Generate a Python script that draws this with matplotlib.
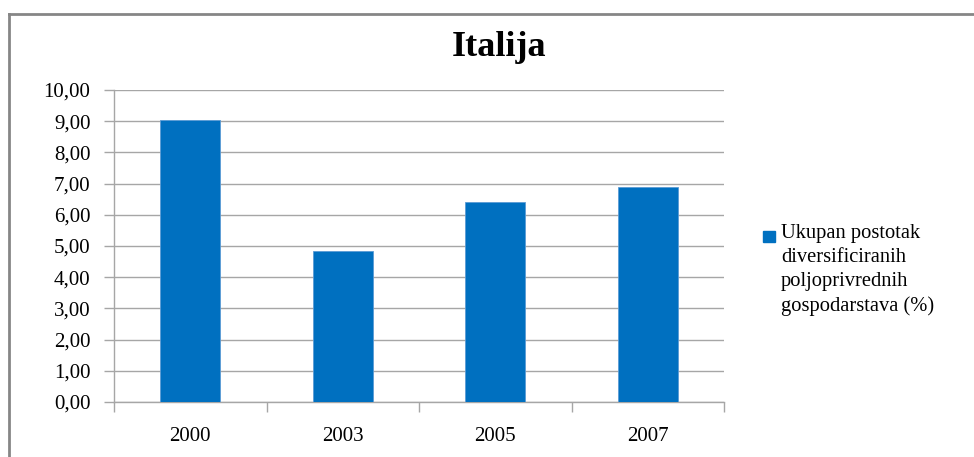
import matplotlib.pyplot as plt
from matplotlib.lines import Line2D
from matplotlib.patches import Rectangle

BAR_COLOR = "#0070c0"
GRID_COLOR = "#a6a6a6"
FRAME_COLOR = "#868686"

years = ["2000", "2003", "2005", "2007"]
values = [9.04, 4.84, 6.42, 6.88]
series_label = "Ukupan postotak\ndiversificiranih\npoljoprivrednih\ngospodarstava (%)"
y_ticks = [0, 1, 2, 3, 4, 5, 6, 7, 8, 9, 10]

plt.rcParams["font.family"] = ["Liberation Serif", "DejaVu Serif"]

W, H = 974, 457
fig = plt.figure(figsize=(W / 100, H / 100), dpi=100)

# plot area in pixel coords: x 114..724, y 90..402
ax = fig.add_axes([114 / W, 1 - 402 / H, (724 - 114) / W, (402 - 90) / H])

x = range(len(years))
ax.bar(x, values, width=0.395, color=BAR_COLOR, edgecolor="#5b9bd5",
       linewidth=0.6, zorder=3)

ax.set_xlim(-0.5, len(years) - 0.5)
ax.set_ylim(0, 10)
ax.set_yticks(y_ticks)
ax.set_yticklabels([f"{v:.2f}".replace(".", ",") for v in y_ticks], fontsize=15)
ax.set_xticks(list(x))
ax.set_xticklabels(years, fontsize=15)
ax.tick_params(axis="x", length=0, pad=18)
ax.set_xticks([i - 0.5 for i in range(len(years) + 1)], minor=True)
ax.tick_params(axis="x", which="minor", length=7, color=GRID_COLOR, width=1)
ax.tick_params(axis="y", length=7, color=GRID_COLOR, width=1, pad=10)

ax.yaxis.grid(True, color=GRID_COLOR, linewidth=1, zorder=0)
for side in ["top", "right"]:
    ax.spines[side].set_visible(False)
for side in ["left", "bottom"]:
    ax.spines[side].set_color(GRID_COLOR)
    ax.spines[side].set_linewidth(1)

fig.text(499 / W, 1 - 48 / H, "Italija", fontsize=26, fontweight="bold",
         ha="center", va="center")

# legend: square aligned with first text line
fig.add_artist(Rectangle((763 / W, 1 - 242 / H), 12 / W, 11 / H,
                         transform=fig.transFigure, color=BAR_COLOR))
fig.text(781 / W, 1 - 224 / H, series_label, fontsize=14.8, ha="left",
         va="top", linespacing=1.36)

# outer chart frame (cut off at right and bottom)
fig.add_artist(Line2D([9 / W, 1], [1 - 14 / H, 1 - 14 / H], color=FRAME_COLOR,
                      linewidth=2, transform=fig.transFigure))
fig.add_artist(Line2D([9 / W, 9 / W], [0, 1 - 14 / H], color=FRAME_COLOR,
                      linewidth=2, transform=fig.transFigure))

fig.savefig("out.png", dpi=100)
